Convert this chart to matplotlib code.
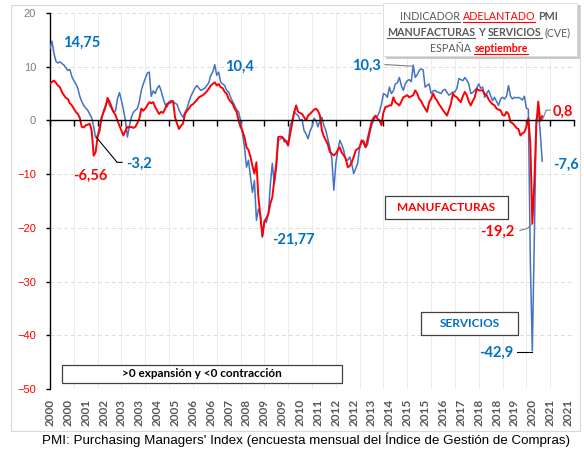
import numpy as np
import matplotlib
matplotlib.use("Agg")
import matplotlib.pyplot as plt
from matplotlib.patches import Rectangle
from matplotlib.lines import Line2D

plt.rcParams['font.family'] = ['Lato', 'DejaVu Sans']

# PMI - 50, mensual, enero 2000 - septiembre 2020
servicios = [
    13.4, 14.75, 12.5, 11.0, 10.7, 10.9, 10.6, 10.3, 9.8, 9.3, 9.5, 8.2,
    7.4, 6.8, 6.0, 4.5, 3.5, 2.8, 2.3, 1.9, 1.2, 0.5, -1.2, -3.2,
    -2.8, -1.0, 0.2, 1.9, 2.8, 3.7, 2.8, 2.2, 1.5, 1.8, 4.0, 5.2,
    3.7, 2.0, 0.0, -3.1, -1.0, 0.6, 1.5, 1.9, 2.2, 3.5, 5.6, 6.8,
    7.8, 8.8, 9.0, 4.5, 5.5, 5.0, 6.0, 6.5, 5.5, 4.1, 3.0, 2.5,
    3.5, 3.7, 3.5, 3.2, 3.0, 1.9, 1.2, 0.6, 1.5, 2.2, 3.5, 4.5,
    5.3, 6.0, 6.5, 6.0, 5.6, 5.8, 6.0, 6.5, 7.0, 8.4, 9.0, 10.4,
    8.4, 9.0, 7.1, 6.8, 6.5, 5.6, 5.3, 4.3, 3.5, 2.8, 2.0, 1.6,
    0.0, -2.5, -5.0, -8.7, -7.4, -10.5, -13.4, -11.2, -18.6, -16.5, -17.4, -21.77,
    -18.6, -19.0, -17.4, -12.0, -8.0, -11.8, -9.0, -3.7, -3.5, -3.1, -4.0, -3.7,
    -4.3, -1.0, 0.0, 1.6, 1.2, 0.9, 0.0, 0.2, -1.9, -2.5, -3.4, -2.0,
    -1.2, 0.4, 0.0, -1.2, 0.0, 0.6, -1.0, -1.9, -3.5, -5.0, -7.1, -13.0,
    -8.0, -5.6, -3.7, -4.5, -5.6, -7.4, -7.4, -6.8, -8.0, -9.9, -9.0, -8.0,
    -5.0, -4.0, -3.7, -5.0, -4.5, -2.5, -1.0, 0.0, 0.6, 0.8, 1.6, 3.0,
    5.0, 4.8, 4.3, 6.2, 5.0, 5.5, 6.8, 7.0, 8.0, 6.5, 5.6, 6.8,
    7.4, 7.6, 7.2, 10.3, 8.0, 8.5, 9.3, 9.6, 9.4, 6.2, 6.5, 6.8,
    5.0, 5.5, 5.6, 5.3, 5.2, 5.0, 5.6, 5.8, 5.2, 4.7, 5.0, 5.3,
    5.3, 6.0, 7.8, 7.6, 7.4, 8.0, 7.5, 6.8, 5.0, 5.2, 5.6, 6.0,
    6.8, 6.0, 6.2, 4.3, 5.0, 5.6, 4.6, 3.7, 4.3, 3.5, 2.8, 4.0,
    4.3, 4.0, 4.5, 6.5, 4.5, 4.0, 4.3, 4.2, 4.3, 4.1, 3.8, 4.5,
    2.3, 2.1, -26.3, -42.9, -22.1, 0.2, 1.9, -2.3, -7.6,
]

manufacturas = [
    6.8, 7.2, 7.4, 7.0, 6.5, 6.2, 5.3, 4.7, 4.2, 4.0, 3.2, 2.8,
    2.2, 1.6, 1.2, 0.5, -1.2, -1.3, -0.9, -0.8, -0.6, -1.9, -6.56, -5.9,
    -3.0, -1.9, 0.6, 1.5, 2.5, 4.2, 3.5, 2.5, 1.6, 1.0, 0.0, -1.0,
    -1.9, -2.8, -1.9, -1.2, -1.3, -1.2, -1.4, -1.2, -0.5, 0.3, 2.2, 1.8,
    2.2, 2.8, 3.4, 3.2, 3.4, 2.5, 1.8, 1.2, 1.6, 1.4, 2.2, 3.1,
    3.2, 3.4, 3.6, 0.6, -0.6, -1.6, -1.0, -0.6, 1.2, 1.8, 2.2, 2.8,
    3.0, 3.4, 3.8, 4.3, 4.5, 4.7, 5.0, 5.4, 5.9, 6.5, 6.8, 7.1,
    6.5, 6.8, 6.2, 6.0, 5.3, 5.0, 4.0, 3.5, 3.1, 2.2, 1.6, 0.0,
    -1.2, -2.0, -3.1, -5.0, -5.5, -6.8, -8.5, -9.9, -7.8, -14.3, -18.0, -21.5,
    -18.9, -18.2, -17.4, -15.5, -14.3, -11.2, -8.0, -3.1, -3.0, -3.1, -3.5, -4.0,
    -4.7, -2.5, -0.6, 1.5, 2.8, 1.6, 1.4, 1.2, 0.6, 0.0, 0.9, 1.2,
    1.6, 2.0, 2.2, 1.8, 0.9, -1.9, -3.0, -3.7, -4.5, -5.9, -6.2, -6.5,
    -6.2, -5.5, -5.0, -6.0, -6.5, -7.1, -8.7, -8.5, -7.8, -6.8, -5.6, -5.3,
    -5.0, -3.7, -4.2, -5.0, -3.5, -1.9, -0.3, 0.5, 0.9, 0.3, 0.0, -0.9,
    1.5, 2.5, 2.6, 2.8, 2.8, 4.3, 3.4, 3.1, 2.8, 3.5, 4.3, 4.5,
    4.7, 4.3, 4.5, 4.7, 5.6, 5.0, 4.0, 3.6, 2.8, 2.2, 1.6, 3.4,
    4.0, 5.0, 4.2, 3.7, 3.0, 2.5, 1.9, 1.4, 0.9, 2.0, 3.1, 5.0,
    4.5, 4.3, 3.8, 3.4, 4.5, 5.3, 4.7, 3.5, 2.8, 3.6, 4.3, 5.9,
    5.6, 5.6, 5.6, 4.9, 4.7, 3.9, 3.4, 3.0, 2.8, 2.2, 2.0, 1.9,
    1.0, 0.9, 1.6, 1.2, -0.3, -0.5, -0.9, -1.4, -1.6, -2.8, -2.4, -2.2,
    -1.2, 0.4, -4.3, -19.2, -11.7, -1.0, 3.5, -0.1, 0.8,
]

etiquetas_x = ["2000", "2000", "2001", "2002", "2003", "2003", "2004", "2005",
               "2006", "2006", "2007", "2008", "2009", "2009", "2010", "2011",
               "2012", "2012", "2013", "2014", "2015", "2015", "2016", "2017",
               "2018", "2018", "2019", "2020", "2021", "2021"]

AZUL = '#4472C4'
AZUL_TXT = '#0070C0'
ROJO = '#FF0000'
GRIS = '#595959'

W, H = 584, 449
fig = plt.figure(figsize=(W / 100, H / 100), dpi=100)
ax = fig.add_axes([50 / W, 1 - 389 / H, 524 / W, 376 / H])

meses = np.arange(len(servicios))
ax.plot(meses, servicios, color=AZUL, lw=1.1, zorder=3)
ax.plot(meses, manufacturas, color=ROJO, lw=1.4, zorder=4)

ax.set_xlim(0, 264)
ax.set_ylim(-50, 20)
ax.set_xticks(np.arange(0, 265, 12))
ax.set_yticks(np.arange(-50, 21, 10))
ax.grid(axis='y', ls=(0, (4, 3)), color='#dcdcdc', lw=0.7)
ax.grid(axis='x', color='#ededed', lw=0.7)
ax.set_axisbelow(True)

for s in ['top', 'right']:
    ax.spines[s].set_visible(False)
ax.spines['bottom'].set_position(('data', 0))
ax.spines['bottom'].set_zorder(5)
ax.spines['left'].set_linewidth(1.0)
ax.spines['bottom'].set_linewidth(1.0)
ax.tick_params(axis='x', labelbottom=False, direction='out', length=4, width=1)
ax.tick_params(axis='y', direction='out', length=3, width=1, pad=7,
               labelsize=8, labelcolor='#7f7f7f')
for lab, v in zip(ax.get_yticklabels(), ax.get_yticks()):
    lab.set_fontfamily('Liberation Sans')
    if v < 0:
        lab.set_color(ROJO)

sec = ax.secondary_xaxis('bottom')
sec.set_xticks(np.arange(0, 9 * len(etiquetas_x), 9), etiquetas_x)
sec.tick_params(length=0, pad=7, labelrotation=90, labelsize=8.5, labelcolor=GRIS)
sec.spines['bottom'].set_visible(False)
for lab in sec.get_xticklabels():
    lab.set_fontweight('bold')

# etiquetas de valores
def etiqueta(x, y, txt, col, ha='left'):
    ax.text(x, y, txt, color=col, fontsize=10.5, fontweight='bold', ha=ha, va='center', zorder=6)

etiqueta(6.5, 14.5, '14,75', AZUL_TXT)
etiqueta(38.3, -8.0, '-3,2', AZUL_TXT)
etiqueta(11.6, -10.4, '-6,56', ROJO)
etiqueta(88.2, 9.9, '10,4', AZUL_TXT)
etiqueta(111.8, -22.2, '-21,77', AZUL_TXT)
etiqueta(152.1, 10.2, '10,3', AZUL_TXT)
etiqueta(253.4, 1.7, '0,8', ROJO)
etiqueta(253.4, -8.2, '-7,6', AZUL_TXT)
etiqueta(216.6, -20.7, '-19,2', ROJO)
etiqueta(216.1, -43.2, '-42,9', AZUL_TXT)

# lineas guia
ax.plot([23.5, 33.8, 36.3], [-3.2, -7.8, -7.8], color='black', lw=0.8, zorder=5)
ax.plot([168.8, 182.4], [10.4, 10.1], color='#7f7f7f', lw=0.8, zorder=5)
ax.plot([248.2, 250.0, 252.0], [0.2, 1.9, 1.9], color='#7f7f7f', lw=0.8, zorder=5)
ax.plot([236.8, 240.5, 242.5], [-20.5, -20.1, -19.4], color='#7f7f7f', lw=0.8, zorder=5)
ax.plot([235.5, 243.0], [-43.2, -43.2], color='black', lw=0.8, zorder=5)

# cuadros de texto
def cuadro(x0, x1, y0, y1, txt, col):
    ax.add_patch(Rectangle((x0, y0), x1 - x0, y1 - y0, facecolor='white',
                           edgecolor='#404040', lw=0.9, zorder=6))
    ax.text((x0 + x1) / 2, (y0 + y1) / 2, txt, color=col, fontsize=8.5,
            fontweight='bold', ha='center', va='center', zorder=7)

cuadro(168.8, 230.7, -18.4, -14.0, 'MANUFACTURAS', ROJO)
cuadro(186.9, 235.7, -39.9, -35.7, 'SERVICIOS', AZUL_TXT)
cuadro(6.0, 147.0, -48.8, -45.6, '>0 expansión y <0 contracción', 'black')

# marco exterior
fig.add_artist(Rectangle((11 / W, 1 - 431 / H), 569 / W, 426 / H, transform=fig.transFigure,
                         facecolor='none', edgecolor='#d9d9d9', lw=0.8, zorder=0))

# cuadro de titulo
fig.add_artist(Rectangle((386 / W, 1 - 59 / H), 194 / W, 54 / H, transform=fig.transFigure,
                         facecolor='#c9c9c9', edgecolor='none', zorder=8))
fig.add_artist(Rectangle((383 / W, 1 - 56 / H), 194 / W, 53 / H, transform=fig.transFigure,
                         facecolor='white', edgecolor='#d9d9d9', lw=0.6, zorder=9))

renderer = fig.canvas.get_renderer()

def linea(y_px, partes, cx=479, size=7.7):
    textos = []
    for txt, col, peso, sub in partes:
        t = fig.text(0, 1 - y_px / H, txt, color=col, fontweight=peso, fontsize=size,
                     va='baseline', ha='left', zorder=10)
        textos.append(t)
    esp = 0.28 * size * 100 / 72
    anchos = [t.get_window_extent(renderer).width for t in textos]
    x = cx - (sum(anchos) + esp * (len(textos) - 1)) / 2
    for t, w, (txt, col, peso, sub) in zip(textos, anchos, partes):
        t.set_x(x / W)
        if sub:
            fig.add_artist(Line2D([x / W, (x + w) / W], [1 - (y_px + 2) / H] * 2,
                                  color=col, lw=0.8, zorder=10))
        x += w + esp

linea(20, [('INDICADOR', GRIS, 'normal', True), ('ADELANTADO', ROJO, 'normal', True),
           ('PMI', GRIS, 'bold', False)])
linea(36, [('MANUFACTURAS', GRIS, 'bold', True), ('Y', GRIS, 'bold', False),
           ('SERVICIOS', GRIS, 'bold', True), ('(CVE)', GRIS, 'normal', False)])
linea(51.5, [('ESPAÑA', GRIS, 'normal', False), ('septiembre', ROJO, 'bold', True)])

fig.text(42 / W, 1 - 440 / H,
         "PMI: Purchasing Managers' Index (encuesta mensual del Índice de Gestión de Compras)",
         fontsize=9.6, family='Liberation Sans', color='black', va='center', ha='left')

fig.savefig('out.png', dpi=100)
